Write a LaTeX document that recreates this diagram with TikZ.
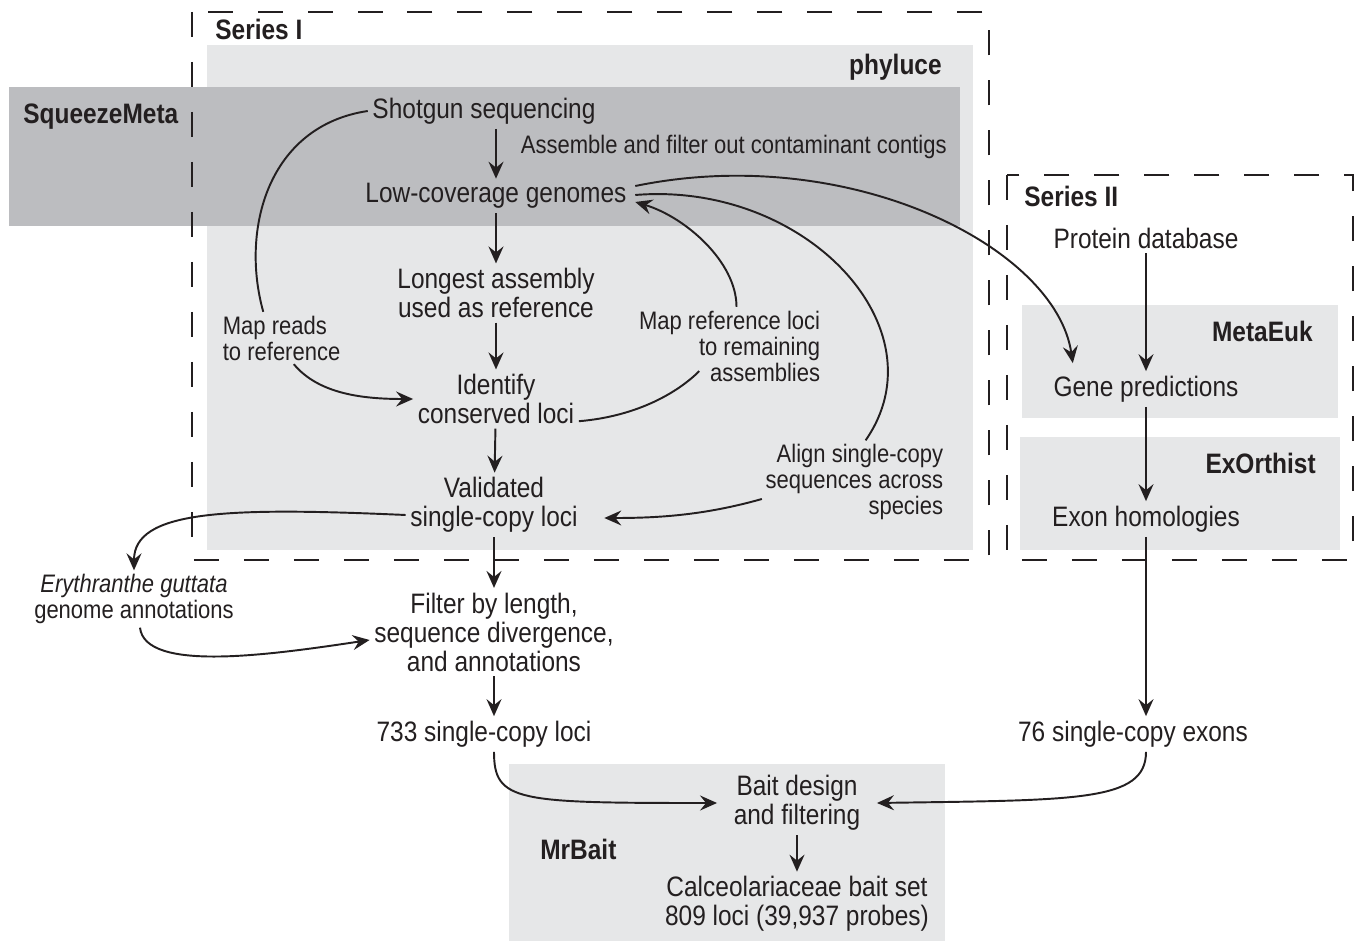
\documentclass[tikz,border=0pt]{standalone}
\usepackage{fontspec}
\setmainfont{Liberation Sans}[FakeStretch=0.87]
\usetikzlibrary{arrows.meta,positioning}
\definecolor{shadelight}{HTML}{E6E7E8}
\definecolor{shadedark}{HTML}{BCBDC0}
\definecolor{ink}{HTML}{231F20}

\begin{document}
\begin{tikzpicture}[
    x=0.02cm, y=-0.02cm,
    txt/.style={inner sep=2.5pt,align=center,font=\fontsize{16}{16.5}\selectfont,text=ink},
    note/.style={inner sep=2pt,font=\fontsize{14.4}{14.8}\selectfont,text=ink},
    tool/.style={inner sep=0pt,font=\fontsize{16}{16.5}\selectfont\bfseries,text=ink},
    series/.style={draw=ink,line width=1.3pt,dash pattern=on 0.5cm off 0.5cm},
    arrow/.style={-{Stealth[length=3.4mm,width=3mm,inset=1.2mm]},line width=1.1pt,draw=ink},
    link/.style={line width=1.1pt,draw=ink}
  ]
    \useasboundingbox (0,0) rectangle (1357,942);

    % Shaded tool regions
    \fill[shadelight] (207,45) rectangle (973,550);
    \fill[shadedark] (9,87) rectangle (960,226);
    \fill[shadelight] (1022,305) rectangle (1338,418);
    \fill[shadelight] (1020,437) rectangle (1340,550);
    \fill[shadelight] (509,764) rectangle (945,941);

    % Series frames
    \draw[series] (192,12) rectangle (989,560);
    \draw[series] (1007,175) rectangle (1353,560);

    % Region labels
    \node[tool,anchor=west] (serI) at (215,29) {Series I};
    \node[tool,anchor=east] (phyluce) at (942,67) {phyluce};
    \node[tool,anchor=west] (squeeze) at (23,117) {SqueezeMeta};
    \node[tool,anchor=west] (serII) at (1024,196) {Series II};
    \node[tool,anchor=east] (metaeuk) at (1313,331) {MetaEuk};
    \node[tool,anchor=east] (exorthist) at (1316,463) {ExOrthist};
    \node[tool,anchor=west] (mrbait) at (540,849) {MrBait};

    % Series I steps
    \node[txt] (shotgun) at (484,111) {Shotgun sequencing};
    \node[note,anchor=west] (assemble) at (517,147) {Assemble and filter out contaminant contigs};
    \node[txt] (lowcov) at (496,196) {Low-coverage genomes};
    \node[txt] (longest) at (496,293) {Longest assembly\\used as reference};
    \node[txt] (identify) at (496,399) {Identify\\conserved loci};
    \node[txt] (validated) at (494,505) {Validated\\single-copy loci};
    \node[note,anchor=west,align=left] (mapreads) at (219,338) {Map reads\\to reference};
    \node[note,anchor=east,align=right] (mapref) at (824,346) {Map reference loci\\to remaining\\assemblies};
    \node[note,anchor=east,align=right] (alignlbl) at (947,482) {Align single-copy\\sequences across\\species};

    % Filtering
    \node[txt] (filter) at (494,632) {Filter by length,\\sequence divergence,\\and annotations};
    \node[note,align=center] (erythranthe) at (134,599) {\textit{Erythranthe guttata}\\genome annotations};
    \node[txt] (loci733) at (484,734) {733 single-copy loci};

    % Series II steps
    \node[txt] (protein) at (1146,238) {Protein database};
    \node[txt] (genepred) at (1146,389) {Gene predictions};
    \node[txt] (exonhom) at (1146,519) {Exon homologies};
    \node[txt] (exons76) at (1133,734) {76 single-copy exons};

    % Bait design
    \node[txt] (baitdesign) at (797,803) {Bait design\\and filtering};
    \node[txt] (baitset) at (797,904) {Calceolariaceae bait set\\809 loci (39,937 probes)};

    % Straight arrows
    \draw[arrow] (shotgun.south -| lowcov.north) -- (lowcov.north);
    \draw[arrow] (lowcov) -- (longest);
    \draw[arrow] (longest) -- (identify);
    \draw[arrow] (identify) -- (validated);
    \draw[arrow] (validated) -- (filter);
    \draw[arrow] (filter.south) -- (filter.south |- loci733.north);
    \draw[arrow] (baitdesign) -- (baitset);
    \draw[arrow] (protein) -- (genepred);
    \draw[arrow] (genepred) -- (exonhom);
    \draw[arrow] (exonhom.south) -- (exonhom.south |- exons76.north);

    % Curved arrows, Series I
    \draw[link] (shotgun.west) .. controls +(-100,15) and +(-23,-82) .. (mapreads.125);
    \draw[arrow] (mapreads.-65) .. controls +(25,30) and +(-50,0) .. (identify.west);
    \draw[link] (identify.-15) .. controls +(60,-5) and +(-20,20) .. ([shift={(64,-14)}]mapref.south west);
    \draw[arrow] (mapref.80) .. controls +(0,-45) and +(50,15) .. ([shift={(4,6)}]lowcov.east);
    \draw[link] ([shift={(4,-1)}]lowcov.east) .. controls +(170,-14) and +(78,-112) .. (alignlbl.75);
    \draw[arrow] ([shift={(0,17)}]alignlbl.west) .. controls +(-60,17) and +(50,0) .. ([shift={(22,13)}]validated.east);

    % Annotations loop
    \draw[arrow] ([shift={(0,10)}]validated.west) .. controls +(-180,-8) and +(0,-60) .. (erythranthe.north);
    \draw[arrow] ([shift={(6,0)}]erythranthe.south) .. controls +(5,45) and +(-100,15) .. ([shift={(0,8)}]filter.west);

    % Into Series II
    \draw[arrow] ([shift={(4,-10)}]lowcov.east) .. controls +(214,-44) and +(-17,-116) .. ([shift={(24,-8)}]genepred.north west);

    % Into bait design
    \draw[arrow] (loci733.south -| filter.south) .. controls +(0,50) and +(-200,0) .. ([xshift=-12*0.02cm]baitdesign.west);
    \draw[arrow] (exons76.south -| exonhom.south) .. controls +(0,50) and +(200,-3) .. ([xshift=12*0.02cm]baitdesign.east);
\end{tikzpicture}
\end{document}
